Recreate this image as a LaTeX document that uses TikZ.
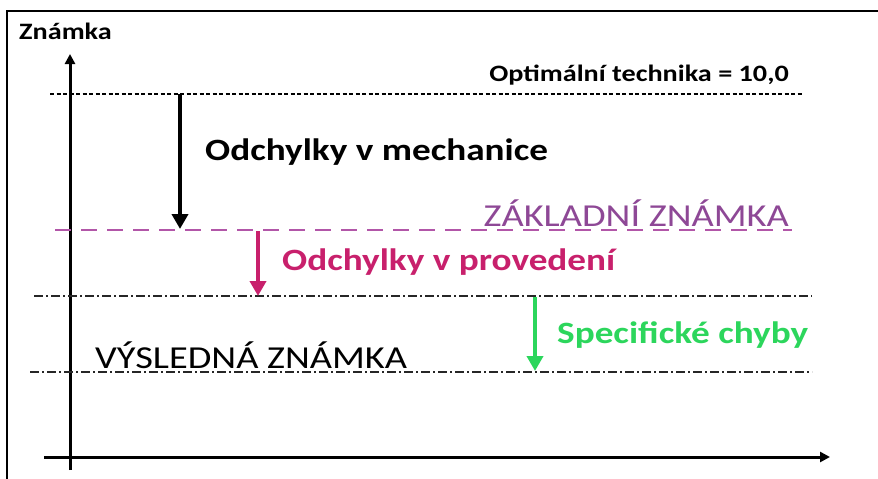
\documentclass[tikz,border=0pt]{standalone}
\usepackage{fontspec}
\setmainfont{Carlito}[FakeStretch=1.2]
\usetikzlibrary{arrows.meta}
\definecolor{basepurple}{RGB}{142,72,150}
\definecolor{baseviolet}{RGB}{178,86,168}
\definecolor{execpink}{RGB}{200,32,108}
\definecolor{specgreen}{RGB}{44,214,92}
\tikzset{
    frame line/.style = {
        line width=2.5pt,
        },
    axis/.style = {
        line width=3pt,
        -{Triangle[length=10pt,width=10pt]},
        },
    optimum line/.style = {
        line width=1.2pt,
        dash pattern=on 4pt off 2.5pt,
        },
    base line/.style = {
        baseviolet,
        line width=2.4pt,
        dash pattern=on 16pt off 10pt,
        },
    result line/.style = {
        line width=1.3pt,
        black!85,
        dash pattern=on 9pt off 3pt on 2pt off 3pt,
        },
    drop arrow/.style = {
        line width=4pt,
        -{Triangle[length=15pt,width=16pt]},
        },
    big text/.style = {
        font=\bfseries\fontsize{31}{34}\selectfont,
        inner sep=0pt,
        },
    level text/.style = {
        font=\fontsize{32}{35}\selectfont,
        inner sep=0pt,
        },
    small text/.style = {
        font=\bfseries\fontsize{23.5}{26}\selectfont,
        inner sep=0pt,
        },
}

\begin{document}
\begin{tikzpicture}[x=1pt,y=-1pt]
    \useasboundingbox (0,0) rectangle (878,479);
    \fill[white] (0,0) rectangle (878,479);

    % frame
    \coordinate (f1) at (7,479);
    \coordinate (f2) at (7,11);
    \coordinate (f3) at (878,11);
    \draw[frame line] (f1) -- (f2) -- (f3);

    % axes
    \coordinate (o) at (70,470);
    \coordinate (ytop) at (70,54);
    \coordinate (xl) at (44,457);
    \coordinate (xr) at (830,457);
    \draw[axis] (o) -- (ytop);
    \draw[axis] (xl) -- (xr);
    \node[small text, anchor=west] (ylab) at (19,31) {Známka};

    % levels
    \coordinate (opt l) at (50,94);
    \coordinate (opt r) at (802,94);
    \coordinate (base l) at (55,230);
    \coordinate (base r) at (792,230);
    \coordinate (exec l) at (34,296);
    \coordinate (exec r) at (812,296);
    \coordinate (res l) at (30,372);
    \coordinate (res r) at (812,372);
    \draw[optimum line] (opt l) -- (opt r);
    \draw[base line] (base l) -- (base r);
    \draw[result line] (exec l) -- (exec r);
    \draw[result line] (res l) -- (res r);

    \node[small text, anchor=east] (opt) at (789,75) {Optimální technika = 10,0};
    \node[level text, text=basepurple, anchor=east] (base) at (789,213) {ZÁKLADNÍ ZNÁMKA};
    \node[level text, anchor=west] (res) at (95,355) {VÝSLEDNÁ ZNÁMKA};

    % deviations
    \coordinate (mech a) at (180,94);
    \coordinate (mech b) at (180,229);
    \coordinate (exec a) at (258,231);
    \coordinate (exec b) at (258,296);
    \coordinate (spec a) at (535,297);
    \coordinate (spec b) at (535,371);
    \draw[drop arrow] (mech a) -- (mech b);
    \draw[drop arrow, execpink] (exec a) -- (exec b);
    \draw[drop arrow, specgreen] (spec a) -- (spec b);

    \node[big text, anchor=west] (mech) at (205,152) {Odchylky v mechanice};
    \node[big text, text=execpink, anchor=west] (exec) at (282,262) {Odchylky v provedení};
    \node[big text, text=specgreen, anchor=west] (spec) at (557,335) {Specifické chyby};
\end{tikzpicture}
\end{document}
